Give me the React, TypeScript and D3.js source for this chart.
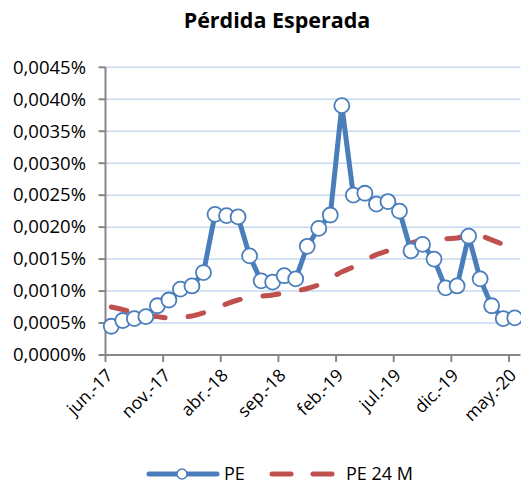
import React from 'react';
import * as d3 from 'd3';

// monthly labels jun-17 .. may-20
const months = [
  'jun.-17', 'jul.-17', 'ago.-17', 'sep.-17', 'oct.-17', 'nov.-17', 'dic.-17',
  'ene.-18', 'feb.-18', 'mar.-18', 'abr.-18', 'may.-18', 'jun.-18', 'jul.-18',
  'ago.-18', 'sep.-18', 'oct.-18', 'nov.-18', 'dic.-18', 'ene.-19', 'feb.-19',
  'mar.-19', 'abr.-19', 'may.-19', 'jun.-19', 'jul.-19', 'ago.-19', 'sep.-19',
  'oct.-19', 'nov.-19', 'dic.-19', 'ene.-20', 'feb.-20', 'mar.-20', 'abr.-20',
  'may.-20',
];

// PE values (in %)
const pe = [
  0.00045, 0.00054, 0.00057, 0.0006, 0.00077, 0.00086, 0.00103, 0.00108,
  0.00129, 0.0022, 0.00218, 0.00216, 0.00155, 0.00116, 0.00114, 0.00124,
  0.00119, 0.0017, 0.00198, 0.00219, 0.0039, 0.0025, 0.00253, 0.00236,
  0.0024, 0.00225, 0.00163, 0.00173, 0.0015, 0.00105, 0.00108, 0.00186,
  0.00119, 0.00077, 0.00057, 0.00058,
];

// PE 24 M values (in %)
const pe24 = [
  0.00075, 0.00071, 0.00066, 0.00062, 0.0006, 0.00058, 0.00059, 0.00061,
  0.00066, 0.00072, 0.0008, 0.00086, 0.0009, 0.00092, 0.00094, 0.00097,
  0.001, 0.00104, 0.0011, 0.0012, 0.0013, 0.00138, 0.00148, 0.00157,
  0.00163, 0.0017, 0.00175, 0.0018, 0.00182, 0.00182, 0.00183, 0.00187,
  0.00186, 0.0018, 0.00173, 0.00167,
];

const yTicks = [0, 0.0005, 0.001, 0.0015, 0.002, 0.0025, 0.003, 0.0035, 0.004, 0.0045];

const BLUE = '#4a7ebb';
const RED = '#c0504d';
const FONT = "'Open Sans', sans-serif";

export default function App() {
  const width = 521, height = 484;
  const left = 105.5, right = 520.5, top = 67.3, bottom = 355;

  const x = d3.scaleBand().domain(months).range([left, right]).padding(0);
  const cx = (m: string) => (x(m) as number) + x.bandwidth() / 2;
  const y = d3.scaleLinear().domain([0, 0.0045]).range([bottom, top]);

  const fmt = (v: number) => d3.format('.4f')(v).replace('.', ',') + '%';

  const peLine = d3.line<number>()
    .x((_, i) => cx(months[i]))
    .y(d => y(d));
  const pe24Line = d3.line<number>()
    .x((_, i) => cx(months[i]))
    .y(d => y(d))
    .curve(d3.curveMonotoneX);

  const labelIdx = months.map((_, i) => i).filter(i => i % 5 === 0);

  return (
    <div style={{ position: 'absolute', left: 0, top: 0 }}>
      <svg width={width} height={height} style={{ display: 'block', background: '#fff' }}>
        <text x={277} y={28} textAnchor="middle" fontFamily={FONT} fontWeight="bold" fontSize={21.5}>
          Pérdida Esperada
        </text>

        {/* gridlines */}
        {yTicks.slice(1).map(t => (
          <line key={t} x1={left} x2={right} y1={y(t)} y2={y(t)} stroke="#c6d9f0" strokeWidth={1.5} />
        ))}

        {/* y axis */}
        <line x1={left} x2={left} y1={top} y2={bottom} stroke="#868686" strokeWidth={2} />
        {yTicks.map(t => (
          <g key={t}>
            <line x1={left - 7} x2={left} y1={y(t)} y2={y(t)} stroke="#868686" strokeWidth={2} />
            <text x={86} y={y(t)} dy="0.35em" textAnchor="end" fontFamily={FONT} fontSize={18}
              textLength={73} lengthAdjust="spacingAndGlyphs" fill="#000">
              {fmt(t)}
            </text>
          </g>
        ))}

        {/* x axis */}
        <line x1={left} x2={right} y1={bottom} y2={bottom} stroke="#868686" strokeWidth={2} />
        {labelIdx.map(i => {
          const tx = x(months[i]) as number;
          return (
            <g key={i}>
              <line x1={tx} x2={tx} y1={bottom} y2={bottom + 7} stroke="#868686" strokeWidth={2} />
              <text
                transform={`translate(${tx + 4},${bottom + 17}) rotate(-45)`}
                textAnchor="end"
                dy="0.35em"
                fontFamily={FONT}
                fontSize={17.5}
              >
                {months[i]}
              </text>
            </g>
          );
        })}

        {/* PE 24 M */}
        <path d={pe24Line(pe24) || ''} fill="none" stroke={RED} strokeWidth={5}
          strokeDasharray="16,23" strokeLinecap="round" />

        {/* PE */}
        <path d={peLine(pe) || ''} fill="none" stroke={BLUE} strokeWidth={5} strokeLinejoin="round" />
        {pe.map((v, i) => (
          <circle key={i} cx={cx(months[i])} cy={y(v)} r={7.5} fill="#fff" stroke={BLUE} strokeWidth={1.8} />
        ))}

        {/* legend */}
        <g>
          <line x1={149} x2={217} y1={474} y2={474} stroke={BLUE} strokeWidth={5} strokeLinecap="round" />
          <circle cx={182} cy={474} r={5} fill="#fff" stroke={BLUE} strokeWidth={1.5} />
          <text x={224} y={474} dy="0.35em" fontFamily={FONT} fontSize={18}>PE</text>
          <line x1={272} x2={291} y1={474} y2={474} stroke={RED} strokeWidth={5} strokeLinecap="round" />
          <line x1={313} x2={332} y1={474} y2={474} stroke={RED} strokeWidth={5} strokeLinecap="round" />
          <text x={346} y={474} dy="0.35em" fontFamily={FONT} fontSize={18}>PE 24 M</text>
        </g>
      </svg>
    </div>
  );
}
